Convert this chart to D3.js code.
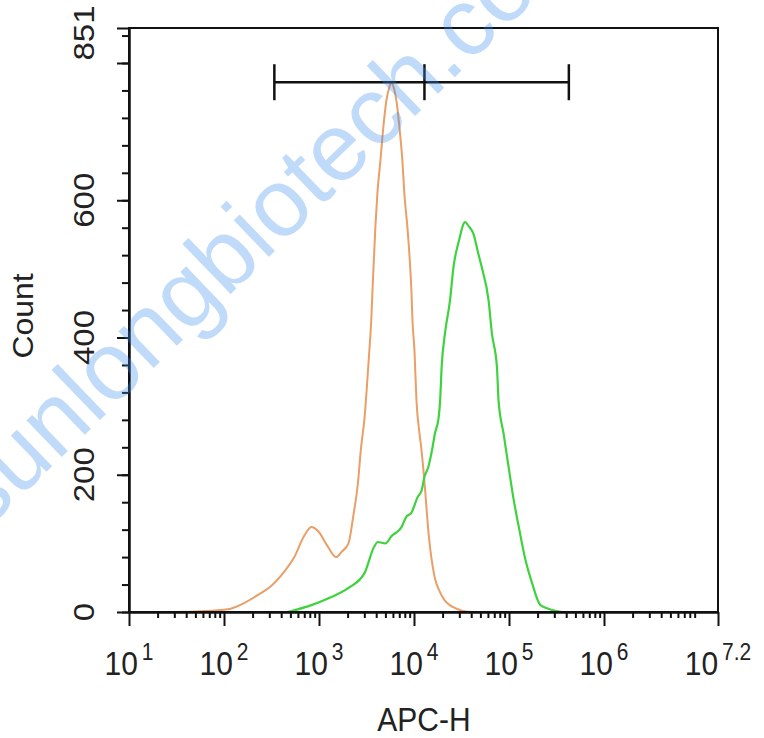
<!DOCTYPE html>
<html>
<head>
<meta charset="utf-8">
<script src="https://cdn.jsdelivr.net/npm/d3@7"></script>
<style>
  html, body { margin: 0; padding: 0; background: #fff; }
  svg { display: block; font-family: "Liberation Sans", Arial, sans-serif; }
</style>
</head>
<body>
<div id="chart"></div>
<script>
// histogram data: x is log10(APC-H), y is event count
const orangeLog = [1.49, 1.75, 2.04, 2.21, 2.37, 2.49, 2.63, 2.74, 2.84, 2.92, 2.99, 3.09, 3.18, 3.24, 3.31, 3.36, 3.41, 3.44, 3.48, 3.505, 3.53, 3.55, 3.566, 3.593, 3.614, 3.646, 3.677, 3.709, 3.741, 3.762, 3.783, 3.815, 3.847, 3.878, 3.899, 3.931, 3.952, 3.974, 3.984, 4.005, 4.026, 4.058, 4.079, 4.111, 4.153, 4.217, 4.27, 4.323, 4.376, 4.429, 4.503, 4.61];
const orangeCount = [0, 1, 4, 13, 26, 37, 58, 80, 110, 124, 118, 96, 80, 88, 100, 139, 188, 236, 284, 330, 381, 425, 478, 560, 609, 657, 706, 745, 765, 772, 766, 745, 706, 657, 609, 560, 520, 464, 425, 381, 308, 260, 236, 188, 115, 51, 30, 17, 10, 6, 2, 0];

const greenLog = [2.67, 2.92, 3.1, 3.31, 3.48, 3.58, 3.62, 3.7, 3.76, 3.87, 3.92, 3.97, 4.04, 4.08, 4.11, 4.15, 4.19, 4.22, 4.26, 4.275, 4.291, 4.326, 4.379, 4.415, 4.471, 4.538, 4.577, 4.626, 4.672, 4.714, 4.785, 4.82, 4.873, 4.89, 4.943, 4.996, 5.05, 5.103, 5.173, 5.243, 5.331, 5.455, 5.56];
const greenCount = [0, 10, 20, 35, 57, 95, 102, 100, 110, 124, 139, 144, 168, 177, 197, 211, 236, 260, 284, 308, 357, 406, 454, 502, 540, 568, 562, 551, 525, 502, 454, 406, 357, 308, 260, 211, 163, 124, 76, 42, 10, 3, 0];

// gate marker (log10 positions) and its height in counts
const gateLog = [2.53, 4.11, 5.63];
const gateCount = 772;

const xMajor = [1, 2, 3, 4, 5, 6, 7.2];
const xMajorLabels = ["1", "2", "3", "4", "5", "6", "7.2"];
const yMajor = [0, 200, 400, 600, 800, 851];
const yLabels = [0, 200, 400, 600, 851];

const W = 764, H = 738;
const margin = { top: 28, right: 46, bottom: 126, left: 129 };

const svg = d3.select("#chart").append("svg")
  .attr("width", W)
  .attr("height", H);

const x = d3.scaleLinear().domain([1, 7.2]).range([margin.left, W - margin.right]);
const y = d3.scaleLinear().domain([0, 851]).range([H - margin.bottom, margin.top]);

// curves
const line = d3.line()
  .x(d => x(d[0]))
  .y(d => y(d[1]))
  .curve(d3.curveMonotoneX);

svg.append("path")
  .datum(d3.zip(orangeLog, orangeCount))
  .attr("d", line)
  .attr("fill", "none")
  .attr("stroke", "#e99f66")
  .attr("stroke-width", 2);

svg.append("path")
  .datum(d3.zip(greenLog, greenCount))
  .attr("d", line)
  .attr("fill", "none")
  .attr("stroke", "#3fd23f")
  .attr("stroke-width", 2.2);

// gate bar
const gate = svg.append("g").attr("stroke", "#111").attr("stroke-width", 2.5);
gate.append("line")
  .attr("x1", x(gateLog[0])).attr("x2", x(gateLog[2]))
  .attr("y1", y(gateCount)).attr("y2", y(gateCount));
gate.selectAll("line.end")
  .data(gateLog)
  .enter().append("line")
  .attr("class", "end")
  .attr("x1", d => x(d)).attr("x2", d => x(d))
  .attr("y1", y(gateCount) - 18).attr("y2", y(gateCount) + 18);

// frame
svg.append("rect")
  .attr("x", margin.left).attr("y", margin.top)
  .attr("width", W - margin.left - margin.right)
  .attr("height", H - margin.top - margin.bottom)
  .attr("fill", "none")
  .attr("stroke", "#111")
  .attr("stroke-width", 2);

// x axis, major + log minor ticks
const xMinor = [];
for (let d = 1; d < 7.2; d++) {
  for (let k = 2; k <= 9; k++) {
    const v = d + Math.log10(k);
    if (v < 7.2) xMinor.push(v);
  }
}
const xAxis = svg.append("g").attr("transform", "translate(0," + y(0) + ")");
xAxis.call(d3.axisBottom(x).tickValues(xMajor).tickSize(14).tickSizeOuter(0).tickFormat(""));
xAxis.append("g").call(d3.axisBottom(x).tickValues(xMinor).tickSize(6).tickSizeOuter(0).tickFormat(""));
xAxis.selectAll("path, line").attr("stroke", "#111").attr("stroke-width", 2);

xAxis.selectAll("text.lbl")
  .data(xMajor)
  .enter().append("text")
  .attr("class", "lbl")
  .attr("transform", d => "translate(" + x(d) + ",63) scale(1,1.1)")
  .attr("text-anchor", "middle")
  .attr("font-size", 30)
  .attr("fill", "#222")
  .each(function(d, i) {
    const t = d3.select(this);
    t.append("tspan").text("10");
    t.append("tspan").attr("dx", 4).attr("dy", -14).attr("font-size", 21).text(xMajorLabels[i]);
  });

// y axis, major every 200 + minor every 40
const yMinor = d3.range(0, 851, 40);
const yAxis = svg.append("g").attr("transform", "translate(" + margin.left + ",0)");
yAxis.call(d3.axisLeft(y).tickValues(yMajor).tickSize(12).tickSizeOuter(0).tickFormat(""));
yAxis.append("g").call(d3.axisLeft(y).tickValues(yMinor).tickSize(7).tickSizeOuter(0).tickFormat(""));
yAxis.selectAll("path, line").attr("stroke", "#111").attr("stroke-width", 2);

yAxis.selectAll("text.lbl")
  .data(yLabels)
  .enter().append("text")
  .attr("class", "lbl")
  .attr("transform", d => "translate(-35," + Math.max(y(d), 33) + ") rotate(-90) scale(1.1,1)")
  .attr("text-anchor", "middle")
  .attr("font-size", 30)
  .attr("fill", "#222")
  .text(d => d);

// axis titles
svg.append("text")
  .attr("transform", "translate(33,316) rotate(-90) scale(1.1,1)")
  .attr("text-anchor", "middle")
  .attr("font-size", 29)
  .attr("fill", "#222")
  .text("Count");

svg.append("text")
  .attr("transform", "translate(424,731) scale(1,1.1)")
  .attr("text-anchor", "middle")
  .attr("font-size", 30)
  .attr("fill", "#222")
  .text("APC-H");

// watermark over the plot
svg.append("text")
  .attr("transform", "translate(-16,532) rotate(-44)")
  .attr("font-size", 96)
  .attr("fill", "#3c8ceb")
  .attr("fill-opacity", 0.32)
  .text("sunlongbiotech.com");
</script>
</body>
</html>
